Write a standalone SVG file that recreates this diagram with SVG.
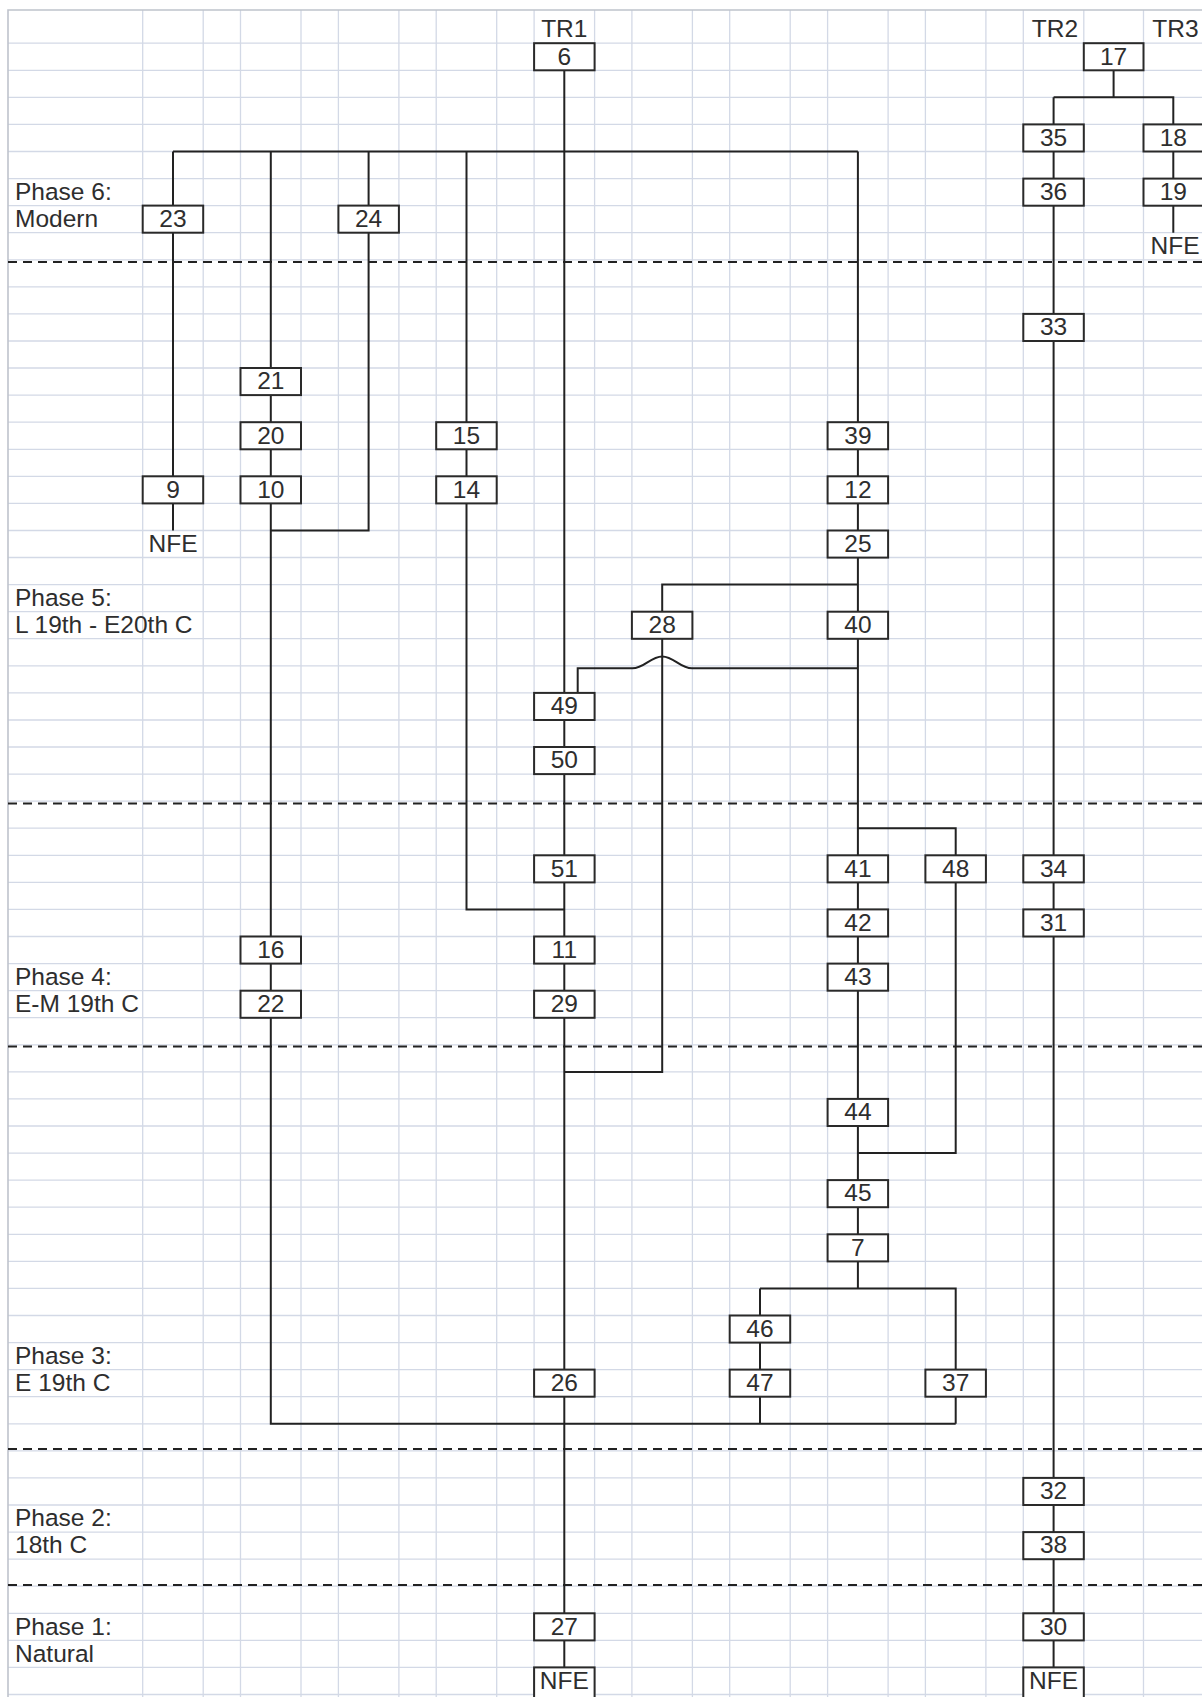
<svg xmlns="http://www.w3.org/2000/svg" width="1202" height="1697" viewBox="0 0 1202 1697">
<style>
.grid{fill:none;stroke:#d3d9e6;stroke-width:1.3}
.edge{fill:none;stroke:#bfc3cc;stroke-width:1.6}
.phase{fill:none;stroke:#222;stroke-width:2;stroke-dasharray:9 6}
.conn{fill:none;stroke:#222;stroke-width:2}
.box{fill:#fff;stroke:#2a2a2a;stroke-width:2}
text{font-family:"Liberation Sans",Arial,sans-serif;font-size:24.5px;fill:#2e2e2e}
.c{text-anchor:middle}
</style>
<rect width="1202" height="1697" fill="#fff"/>
<g id="grid">
<path class="grid" d="M8 43.2H1202M8 70.3H1202M8 97.3H1202M8 124.4H1202M8 151.5H1202M8 178.6H1202M8 205.6H1202M8 232.7H1202M8 259.8H1202M8 286.8H1202M8 313.9H1202M8 341H1202M8 368H1202M8 395.1H1202M8 422.2H1202M8 449.3H1202M8 476.3H1202M8 503.4H1202M8 530.5H1202M8 557.5H1202M8 584.6H1202M8 611.7H1202M8 638.7H1202M8 665.8H1202M8 692.9H1202M8 720H1202M8 747H1202M8 774.1H1202M8 801.2H1202M8 828.2H1202M8 855.3H1202M8 882.4H1202M8 909.4H1202M8 936.5H1202M8 963.6H1202M8 990.7H1202M8 1017.7H1202M8 1044.8H1202M8 1071.9H1202M8 1098.9H1202M8 1126H1202M8 1153.1H1202M8 1180.1H1202M8 1207.2H1202M8 1234.3H1202M8 1261.4H1202M8 1288.4H1202M8 1315.5H1202M8 1342.6H1202M8 1369.6H1202M8 1396.7H1202M8 1423.8H1202M8 1450.8H1202M8 1477.9H1202M8 1505H1202M8 1532.1H1202M8 1559.1H1202M8 1586.2H1202M8 1613.3H1202M8 1640.3H1202M8 1667.4H1202M8 1694.5H1202"/>
<path class="grid" d="M142.7 10V1697M203.2 10V1697M240.5 10V1697M301 10V1697M338.4 10V1697M398.9 10V1697M436.2 10V1697M496.7 10V1697M534.1 10V1697M594.6 10V1697M631.9 10V1697M692.4 10V1697M729.7 10V1697M790.2 10V1697M827.6 10V1697M888.1 10V1697M925.4 10V1697M985.9 10V1697M1023.3 10V1697M1083.8 10V1697M1143.5 10V1697"/>
<path class="edge" d="M8 1697V10H1202"/>
</g>
<g id="phase-lines">
<path class="phase" d="M8 262H1202M8 803.5H1202M8 1046.5H1202M8 1449H1202M8 1585H1202"/>
</g>
<g id="labels">
<text x="15" y="200">Phase 6:</text>
<text x="15" y="227">Modern</text>
<text x="15" y="606">Phase 5:</text>
<text x="15" y="633">L 19th - E20th C</text>
<text x="15" y="985">Phase 4:</text>
<text x="15" y="1012">E-M 19th C</text>
<text x="15" y="1364">Phase 3:</text>
<text x="15" y="1391">E 19th C</text>
<text x="15" y="1526.3">Phase 2:</text>
<text x="15" y="1553.4">18th C</text>
<text x="15" y="1634.6">Phase 1:</text>
<text x="15" y="1661.6">Natural</text>
<text class="c" x="564.3" y="36.5">TR1</text>
<text class="c" x="1055" y="36.5">TR2</text>
<text class="c" x="1175.5" y="36.5">TR3</text>
</g>
<g id="connectors">
<path class="conn" d="M564.3 70.3V1667.4"/>
<path class="conn" d="M173 151.5H857.9"/>
<path class="conn" d="M173 151.5V530.5"/>
<path class="conn" d="M270.8 151.5V1423.8H955.7"/>
<path class="conn" d="M368.6 151.5V530.5H270.8"/>
<path class="conn" d="M466.5 151.5V909.4H564.3"/>
<path class="conn" d="M857.9 151.5V1288.4"/>
<path class="conn" d="M857.9 584.6H662.2V1071.9H564.3"/>
<path class="conn" d="M857.9 668.3H692C680 668.3 674 656.5 662.2 656.5C650.4 656.5 644.4 668.3 632.4 668.3H577.7V692.9"/>
<path class="conn" d="M857.9 828.2H955.7V1153.1H857.9"/>
<path class="conn" d="M760 1288.4H955.7V1423.8"/>
<path class="conn" d="M760 1288.4V1423.8"/>
<path class="conn" d="M1113.6 70.3V97.3"/>
<path class="conn" d="M1053.6 97.3H1173.3V232.7"/>
<path class="conn" d="M1053.6 97.3V1667.4"/>
</g>
<g id="n6"><rect class="box" x="534.1" y="43.2" width="60.5" height="27.1"/><text class="c" x="564.3" y="64.5">6</text></g>
<g id="n17"><rect class="box" x="1083.8" y="43.2" width="59.7" height="27.1"/><text class="c" x="1113.6" y="64.5">17</text></g>
<g id="n35"><rect class="box" x="1023.3" y="124.4" width="60.5" height="27.1"/><text class="c" x="1053.6" y="145.7">35</text></g>
<g id="n18"><rect class="box" x="1143.5" y="124.4" width="60.5" height="27.1"/><text class="c" x="1173.3" y="145.7">18</text></g>
<g id="n36"><rect class="box" x="1023.3" y="178.6" width="60.5" height="27.1"/><text class="c" x="1053.6" y="199.9">36</text></g>
<g id="n19"><rect class="box" x="1143.5" y="178.6" width="60.5" height="27.1"/><text class="c" x="1173.3" y="199.9">19</text></g>
<g id="nfe-tr3"><text class="c" x="1175" y="254">NFE</text></g>
<g id="n23"><rect class="box" x="142.7" y="205.6" width="60.5" height="27.1"/><text class="c" x="173" y="226.9">23</text></g>
<g id="n24"><rect class="box" x="338.4" y="205.6" width="60.5" height="27.1"/><text class="c" x="368.6" y="226.9">24</text></g>
<g id="n33"><rect class="box" x="1023.3" y="313.9" width="60.5" height="27.1"/><text class="c" x="1053.6" y="335.2">33</text></g>
<g id="n21"><rect class="box" x="240.5" y="368" width="60.5" height="27.1"/><text class="c" x="270.8" y="389.3">21</text></g>
<g id="n20"><rect class="box" x="240.5" y="422.2" width="60.5" height="27.1"/><text class="c" x="270.8" y="443.5">20</text></g>
<g id="n15"><rect class="box" x="436.2" y="422.2" width="60.5" height="27.1"/><text class="c" x="466.5" y="443.5">15</text></g>
<g id="n39"><rect class="box" x="827.6" y="422.2" width="60.5" height="27.1"/><text class="c" x="857.9" y="443.5">39</text></g>
<g id="n9"><rect class="box" x="142.7" y="476.3" width="60.5" height="27.1"/><text class="c" x="173" y="497.6">9</text></g>
<g id="n10"><rect class="box" x="240.5" y="476.3" width="60.5" height="27.1"/><text class="c" x="270.8" y="497.6">10</text></g>
<g id="n14"><rect class="box" x="436.2" y="476.3" width="60.5" height="27.1"/><text class="c" x="466.5" y="497.6">14</text></g>
<g id="n12"><rect class="box" x="827.6" y="476.3" width="60.5" height="27.1"/><text class="c" x="857.9" y="497.6">12</text></g>
<g id="nfe-9"><text class="c" x="173" y="551.8">NFE</text></g>
<g id="n25"><rect class="box" x="827.6" y="530.5" width="60.5" height="27.1"/><text class="c" x="857.9" y="551.8">25</text></g>
<g id="n28"><rect class="box" x="631.9" y="611.7" width="60.5" height="27.1"/><text class="c" x="662.2" y="633">28</text></g>
<g id="n40"><rect class="box" x="827.6" y="611.7" width="60.5" height="27.1"/><text class="c" x="857.9" y="633">40</text></g>
<g id="n49"><rect class="box" x="534.1" y="692.9" width="60.5" height="27.1"/><text class="c" x="564.3" y="714.2">49</text></g>
<g id="n50"><rect class="box" x="534.1" y="747" width="60.5" height="27.1"/><text class="c" x="564.3" y="768.3">50</text></g>
<g id="n51"><rect class="box" x="534.1" y="855.3" width="60.5" height="27.1"/><text class="c" x="564.3" y="876.6">51</text></g>
<g id="n41"><rect class="box" x="827.6" y="855.3" width="60.5" height="27.1"/><text class="c" x="857.9" y="876.6">41</text></g>
<g id="n48"><rect class="box" x="925.4" y="855.3" width="60.5" height="27.1"/><text class="c" x="955.7" y="876.6">48</text></g>
<g id="n34"><rect class="box" x="1023.3" y="855.3" width="60.5" height="27.1"/><text class="c" x="1053.6" y="876.6">34</text></g>
<g id="n42"><rect class="box" x="827.6" y="909.4" width="60.5" height="27.1"/><text class="c" x="857.9" y="930.7">42</text></g>
<g id="n31"><rect class="box" x="1023.3" y="909.4" width="60.5" height="27.1"/><text class="c" x="1053.6" y="930.7">31</text></g>
<g id="n16"><rect class="box" x="240.5" y="936.5" width="60.5" height="27.1"/><text class="c" x="270.8" y="957.8">16</text></g>
<g id="n11"><rect class="box" x="534.1" y="936.5" width="60.5" height="27.1"/><text class="c" x="564.3" y="957.8">11</text></g>
<g id="n43"><rect class="box" x="827.6" y="963.6" width="60.5" height="27.1"/><text class="c" x="857.9" y="984.9">43</text></g>
<g id="n22"><rect class="box" x="240.5" y="990.7" width="60.5" height="27.1"/><text class="c" x="270.8" y="1012">22</text></g>
<g id="n29"><rect class="box" x="534.1" y="990.7" width="60.5" height="27.1"/><text class="c" x="564.3" y="1012">29</text></g>
<g id="n44"><rect class="box" x="827.6" y="1098.9" width="60.5" height="27.1"/><text class="c" x="857.9" y="1120.2">44</text></g>
<g id="n45"><rect class="box" x="827.6" y="1180.1" width="60.5" height="27.1"/><text class="c" x="857.9" y="1201.4">45</text></g>
<g id="n7"><rect class="box" x="827.6" y="1234.3" width="60.5" height="27.1"/><text class="c" x="857.9" y="1255.6">7</text></g>
<g id="n46"><rect class="box" x="729.7" y="1315.5" width="60.5" height="27.1"/><text class="c" x="760" y="1336.8">46</text></g>
<g id="n26"><rect class="box" x="534.1" y="1369.6" width="60.5" height="27.1"/><text class="c" x="564.3" y="1390.9">26</text></g>
<g id="n47"><rect class="box" x="729.7" y="1369.6" width="60.5" height="27.1"/><text class="c" x="760" y="1390.9">47</text></g>
<g id="n37"><rect class="box" x="925.4" y="1369.6" width="60.5" height="27.1"/><text class="c" x="955.7" y="1390.9">37</text></g>
<g id="n32"><rect class="box" x="1023.3" y="1477.9" width="60.5" height="27.1"/><text class="c" x="1053.6" y="1499.2">32</text></g>
<g id="n38"><rect class="box" x="1023.3" y="1532.1" width="60.5" height="27.1"/><text class="c" x="1053.6" y="1553.4">38</text></g>
<g id="n27"><rect class="box" x="534.1" y="1613.3" width="60.5" height="27.1"/><text class="c" x="564.3" y="1634.6">27</text></g>
<g id="n30"><rect class="box" x="1023.3" y="1613.3" width="60.5" height="27.1"/><text class="c" x="1053.6" y="1634.6">30</text></g>
<g id="nfe-tr1"><rect class="box" x="534.1" y="1667.4" width="60.5" height="32"/><text class="c" x="564.3" y="1688.7">NFE</text></g>
<g id="nfe-tr2"><rect class="box" x="1023.3" y="1667.4" width="60.5" height="32"/><text class="c" x="1053.6" y="1688.7">NFE</text></g>
</svg>
